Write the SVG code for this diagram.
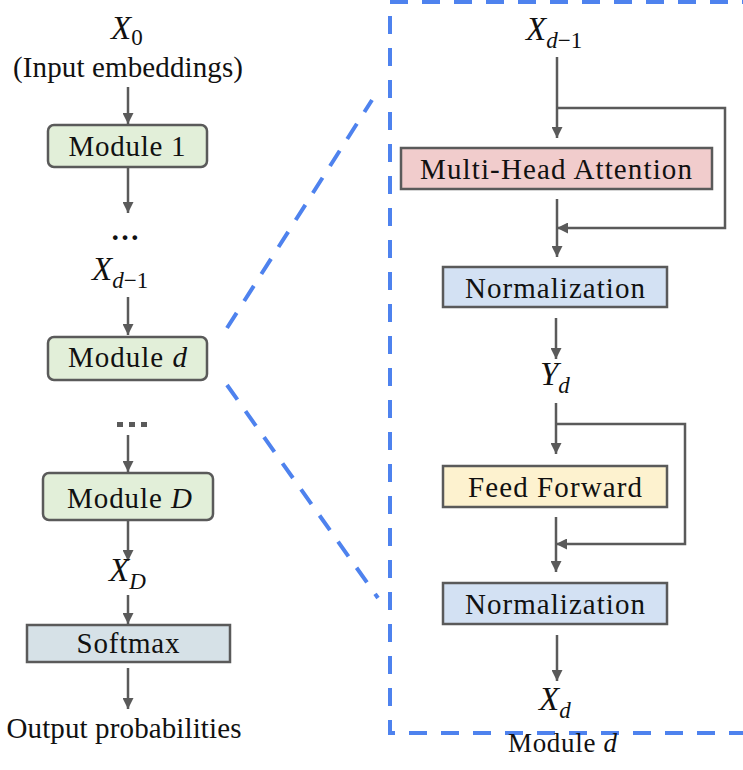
<svg xmlns="http://www.w3.org/2000/svg" width="743" height="770" viewBox="0 0 743 770">
<defs>
<style>
.t{font-family:"Liberation Serif","Times New Roman",serif;font-size:29px;fill:#111;}
.m{font-family:"Liberation Serif","Times New Roman",serif;font-style:italic;font-size:33px;fill:#111;}
.s{font-size:23px;}
.box{stroke:#5a5a5a;stroke-width:2.5;}
.c{fill:none;stroke:#5a5a5a;stroke-width:2.5;}
.dash{fill:none;stroke:#4e82ee;stroke-width:4;stroke-dasharray:18 14;}
</style>
<marker id="ah" viewBox="0 0 10 10" refX="10" refY="5" markerWidth="11" markerHeight="11" markerUnits="userSpaceOnUse" orient="auto">
<path d="M0,0 L10,5 L0,10 z" fill="#5a5a5a"/>
</marker>
</defs>
<rect width="743" height="770" fill="#fff"/>

<g id="zoom-lines">
<line class="dash" x1="227" y1="328" x2="372" y2="100"/>
<line class="dash" x1="227" y1="385" x2="378" y2="598"/>
<path class="dash" d="M760,2 L390,2 L390,733 L760,733"/>
</g>

<g id="connectors">
<line class="c" x1="128" y1="87" x2="128" y2="124" marker-end="url(#ah)"/>
<line class="c" x1="128" y1="168" x2="128" y2="213" marker-end="url(#ah)"/>
<line class="c" x1="128" y1="297" x2="128" y2="335" marker-end="url(#ah)"/>
<line class="c" x1="128" y1="435" x2="128" y2="472" marker-end="url(#ah)"/>
<line class="c" x1="128" y1="521" x2="128" y2="561" marker-end="url(#ah)"/>
<line class="c" x1="128" y1="595" x2="128" y2="624" marker-end="url(#ah)"/>
<line class="c" x1="128" y1="668" x2="128" y2="709" marker-end="url(#ah)"/>

<line class="c" x1="557" y1="57" x2="557" y2="138" marker-end="url(#ah)"/>
<polyline class="c" points="557,108 725,108 725,228 557,228" marker-end="url(#ah)"/>
<line class="c" x1="557" y1="199" x2="557" y2="257" marker-end="url(#ah)"/>
<line class="c" x1="556" y1="318" x2="556" y2="359" marker-end="url(#ah)"/>
<line class="c" x1="556" y1="403" x2="556" y2="454" marker-end="url(#ah)"/>
<polyline class="c" points="556,424 685,424 685,544 556,544" marker-end="url(#ah)"/>
<line class="c" x1="556" y1="517" x2="556" y2="572" marker-end="url(#ah)"/>
<line class="c" x1="557" y1="635" x2="557" y2="681" marker-end="url(#ah)"/>
</g>

<g id="x0">
<text class="m" x="111" y="39">X<tspan class="s" font-style="normal" dy="6">0</tspan></text>
<text class="t" x="128" y="77" text-anchor="middle" textLength="230">(Input embeddings)</text>
</g>

<g id="module1">
<rect class="box" x="48" y="125" width="159" height="42" rx="6" fill="#e2efd9"/>
<text class="t" x="127" y="156" text-anchor="middle" textLength="117">Module 1</text>
</g>

<g id="dots1">
<text class="t" x="125" y="240" text-anchor="middle" style="font-weight:bold">…</text>
</g>

<g id="xdm1-left">
<text class="m" x="92" y="280">X<tspan class="s" dy="8">d</tspan><tspan class="s" font-style="normal">−1</tspan></text>
</g>

<g id="moduled">
<rect class="box" x="48" y="337" width="159" height="43" rx="6" fill="#e2efd9"/>
<text class="t" x="68" y="367" textLength="119">Module <tspan font-style="italic">d</tspan></text>
</g>

<g id="dots2">
<rect x="117" y="422" width="6" height="5" fill="#5a5a5a"/>
<rect x="129" y="422" width="6" height="5" fill="#5a5a5a"/>
<rect x="141" y="422" width="6" height="5" fill="#5a5a5a"/>
</g>

<g id="moduleD">
<rect class="box" x="43" y="473" width="170" height="47" rx="6" fill="#e2efd9"/>
<text class="t" x="67" y="508" textLength="125">Module <tspan font-style="italic">D</tspan></text>
</g>

<g id="xD">
<text class="m" x="109" y="581">X<tspan class="s" dy="8">D</tspan></text>
</g>

<g id="softmax">
<rect class="box" x="27" y="625" width="203" height="37" fill="#d6e1e7"/>
<text class="t" x="128" y="653" text-anchor="middle" textLength="103">Softmax</text>
</g>

<g id="output">
<text class="t" x="124" y="738" text-anchor="middle" textLength="235">Output probabilities</text>
</g>

<g id="xdm1-right">
<text class="m" x="526" y="40">X<tspan class="s" dy="8">d</tspan><tspan class="s" font-style="normal">−1</tspan></text>
</g>

<g id="mha">
<rect class="box" x="401" y="148" width="311" height="41" fill="#f1cccc"/>
<text class="t" x="556" y="179" text-anchor="middle" textLength="272">Multi-Head Attention</text>
</g>

<g id="norm1">
<rect class="box" x="443" y="267" width="224" height="40" fill="#d3e1f3"/>
<text class="t" x="555" y="298" text-anchor="middle" textLength="180">Normalization</text>
</g>

<g id="yd">
<text class="m" x="540" y="385">Y<tspan class="s" dy="8">d</tspan></text>
</g>

<g id="ff">
<rect class="box" x="443" y="466" width="224" height="41" fill="#fdf2cf"/>
<text class="t" x="555" y="497" text-anchor="middle" textLength="174">Feed Forward</text>
</g>

<g id="norm2">
<rect class="box" x="443" y="583" width="224" height="41" fill="#d3e1f3"/>
<text class="t" x="555" y="614" text-anchor="middle" textLength="180">Normalization</text>
</g>

<g id="xd">
<text class="m" x="539" y="710">X<tspan class="s" dy="8">d</tspan></text>
</g>

<g id="module-label">
<text class="t" x="508" y="752" style="font-size:27px" textLength="109">Module <tspan font-style="italic">d</tspan></text>
</g>
</svg>
